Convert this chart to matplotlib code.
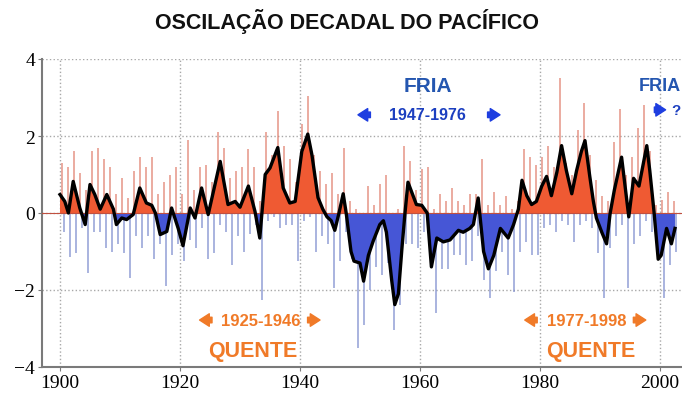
import numpy as np
import matplotlib
matplotlib.use("Agg")
import matplotlib.pyplot as plt

# annual extreme monthly values, 1900-2002
years = np.arange(1900, 2003)
spike_max = [1.3, 1.2, 1.6, 1.05, 0.6, 1.6, 1.7, 1.4, 1.2, 0.5,
             0.9, 0.4, 1.1, 1.45, 1.2, 1.45, 0.5, 0.8, 1.0, 1.2,
             0.5, 1.9, 0.6, 1.2, 1.25, 0.8, 2.1, 1.7, 0.9, 1.1,
             1.2, 1.65, 1.2, 0.3, 2.1, 1.5, 2.65, 1.75, 1.4, 0.8,
             2.3, 3.05, 1.5, 1.1, 0.75, 1.05, 0.5, 1.7, 0.3, 0.1,
             0.0, 0.7, 0.2, 0.75, 1.0, 0.0, 0.1, 1.75, 1.35, 0.6,
             1.15, 1.2, 0.1, 0.5, 0.3, 0.65, 0.3, 0.2, 0.5, 0.5,
             1.4, 0.2, 0.55, 0.2, 0.45, 0.1, 0.3, 1.65, 1.45, 1.25,
             1.45, 1.75, 1.2, 3.5, 1.3, 1.0, 2.15, 2.85, 1.5, 0.85,
             0.45, 0.3, 1.85, 2.7, 1.0, 1.45, 2.2, 2.8, 1.6, 0.2,
             0.35, 0.55, 0.3]
spike_min = [-0.5, -1.15, -1.05, -0.4, -1.55, -0.5, -0.5, -0.9, -1.0, -0.8,
             -1.05, -1.7, -0.6, -0.9, -0.6, -1.2, -0.8, -1.9, -1.1, -0.8,
             -1.25, -0.7, -0.9, -0.4, -1.2, -1.05, -0.3, -0.5, -1.35, -0.6,
             -1.0, -0.55, -0.3, -2.25, -0.2, -0.1, -0.4, -0.3, -0.3, -1.25,
             -0.2, -0.1, -1.0, -0.6, -0.8, -1.95, -1.25, -0.5, -1.2, -3.5,
             -2.9, -2.0, -1.4, -1.6, -1.3, -3.05, -2.4, -0.8, -0.8, -0.9,
             -0.5, -1.0, -2.6, -1.45, -1.45, -1.1, -1.1, -1.35, -1.25, -0.6,
             -1.75, -2.2, -1.5, -1.0, -1.6, -2.05, -1.0, -0.75, -1.1, -1.1,
             -0.4, -0.3, -0.5, -0.2, -0.3, -0.75, -0.3, -0.2, -0.4, -1.05,
             -2.2, -0.9, -0.6, -0.3, -1.95, -0.8, -0.6, -0.2, -0.5, -1.2,
             -2.2, -1.35, -1.0]

# smoothed index
smooth_years = [1900.0, 1900.8, 1901.4, 1902.2, 1903.3, 1904.2, 1905.0, 1905.8,
                1906.7, 1907.8, 1908.9, 1909.4, 1910.3, 1911.1, 1912.2, 1913.3,
                1914.4, 1915.3, 1915.9, 1916.7, 1917.8, 1918.6, 1919.7, 1920.5,
                1921.7, 1922.5, 1923.6, 1924.7, 1926.7, 1928.0, 1929.2, 1930.0,
                1931.4, 1932.5, 1933.3, 1934.2, 1935.0, 1936.3, 1937.2, 1938.3,
                1939.2, 1940.3, 1941.3, 1942.0, 1943.0, 1943.8, 1944.5, 1945.2,
                1945.8, 1946.5, 1947.2, 1947.7, 1948.5, 1949.0, 1950.0, 1950.6,
                1951.4, 1952.2, 1953.3, 1953.9, 1954.4, 1955.3, 1955.8, 1956.4,
                1957.0, 1957.5, 1958.0, 1959.4, 1960.3, 1961.2, 1961.9, 1962.8,
                1963.9, 1965.0, 1966.4, 1967.2, 1968.3, 1968.9, 1969.7, 1970.6,
                1971.4, 1972.3, 1973.4, 1974.7, 1975.6, 1976.4, 1977.0, 1977.8,
                1978.6, 1979.4, 1980.3, 1981.1, 1981.9, 1982.8, 1983.6, 1984.4,
                1985.3, 1986.1, 1986.9, 1987.5, 1988.3, 1988.9, 1989.4, 1990.3,
                1991.1, 1991.7, 1992.4, 1993.6, 1994.8, 1995.6, 1996.5, 1997.8,
                1998.3, 1999.0, 1999.7, 2000.2, 2001.1, 2001.9, 2002.5]
smooth_vals = [0.48, 0.3, 0.0, 0.82, 0.13, -0.3, 0.74, 0.48,
               0.1, 0.48, 0.1, -0.3, -0.13, -0.17, -0.04, 0.65,
               0.26, 0.2, 0.0, -0.56, -0.48, 0.13, -0.4, -0.85,
               0.13, -0.13, 0.65, -0.04, 1.34, 0.22, 0.3, 0.15,
               0.7, 0.04, -0.65, 1.0, 1.17, 1.7, 0.65, 0.26,
               0.3, 1.6, 2.05, 1.5, 0.4, 0.1, -0.1, -0.2,
               -0.45, 0.0, 0.5, 0.0, -1.0, -1.25, -1.3, -1.77,
               -1.1, -0.73, -0.3, -0.2, -0.5, -1.77, -2.38, -2.1,
               -0.9, 0.0, 0.8, 0.22, 0.2, 0.0, -1.4, -0.65,
               -0.75, -0.7, -0.45, -0.5, -0.4, -0.3, 0.39, -1.0,
               -1.45, -1.1, -0.4, -0.65, -0.3, 0.1, 0.85, 0.45,
               0.22, 0.3, 0.7, 0.95, 0.45, 1.05, 1.75, 1.1,
               0.5, 1.1, 1.6, 1.88, 0.95, 0.3, -0.13, -0.5,
               -0.8, 0.0, 0.6, 1.45, -0.1, 0.9, 0.7, 1.75,
               1.1, 0.04, -1.2, -1.1, -0.4, -0.8, -0.4]

RED = '#ef5a33'
BLUE = '#4656d6'
TXT_BLUE = '#1c3fc0'
ORANGE = '#f07a28'

fig = plt.figure(figsize=(6.82, 4.06), dpi=100)
ax = fig.add_axes([42 / 682, 38 / 406, 640 / 682, 308 / 406])
ax.set_xlim(1897, 2003.67)
ax.set_ylim(-4, 4)

# monthly-like spikes
pos = np.clip(spike_max, 0, None)
neg = np.clip(spike_min, None, 0)
ax.vlines(years + 0.3, 0, pos, color='#e07c6c', lw=1.2, alpha=0.75, zorder=2)
ax.vlines(years + 0.75, neg, 0, color='#8290d0', lw=1.2, alpha=0.8, zorder=2)

# smoothed curve with filled areas
sx = np.array(smooth_years)
sy = np.array(smooth_vals)
ax.fill_between(sx, 0, sy, where=sy >= 0, interpolate=True, color=RED, lw=0, zorder=3)
ax.fill_between(sx, 0, sy, where=sy <= 0, interpolate=True, color=BLUE, lw=0, zorder=3)
ax.axhline(0, color='#c05040', lw=0.8, zorder=3)
ax.plot(sx, sy, color='black', lw=2.4, zorder=4)

# axes styling
for s in ['top', 'right']:
    ax.spines[s].set_visible(False)
for s in ['left', 'bottom']:
    ax.spines[s].set_color('#7a7a7a')
    ax.spines[s].set_linewidth(1.5)
ax.set_xticks([1900, 1920, 1940, 1960, 1980, 2000])
ax.set_yticks([-4, -2, 0, 2, 4])
ax.grid(True, linestyle=':', color='#a8a8a8', lw=1.0, zorder=0)
ax.set_axisbelow(True)
ax.tick_params(direction='out', length=3, color='#7a7a7a', labelsize=14, pad=2)
for lab in ax.get_xticklabels() + ax.get_yticklabels():
    lab.set_family('Liberation Serif')

fig.text(0.509, 0.946, 'OSCILAÇÃO DECADAL DO PACÍFICO', ha='center', va='center',
         fontsize=15.5, fontweight='bold', family='Liberation Sans', color='#111111')

bold = dict(fontweight='bold', family='Liberation Sans', ha='center', va='center', clip_on=False)
arrow_kw = dict(arrowstyle='simple,head_length=0.7,head_width=0.9,tail_width=0.4')

# FRIA 1947-1976
ax.text(1961.3, 3.32, 'FRIA', color='#2456b0', fontsize=15, **bold)
ax.text(1961.3, 2.55, '1947-1976', color=TXT_BLUE, fontsize=11.5, **bold)
ax.annotate('', xy=(1949.2, 2.55), xytext=(1952.2, 2.55),
            arrowprops=dict(color='#1e3ee0', **arrow_kw))
ax.annotate('', xy=(1973.8, 2.55), xytext=(1970.8, 2.55),
            arrowprops=dict(color='#1e3ee0', **arrow_kw))
# FRIA after 1998, squeezed against the right edge
ax.text(2003.4, 3.32, 'FRIA', color='#2456b0', fontsize=13, **{**bold, 'ha': 'right'})
ax.annotate('', xy=(2001.4, 2.68), xytext=(1998.6, 2.68),
            arrowprops=dict(color='#1e3ee0', **arrow_kw))
ax.text(2003.4, 2.68, '?', color=TXT_BLUE, fontsize=11, **{**bold, 'ha': 'right'})

# QUENTE 1925-1946
ax.text(1933.5, -2.78, '1925-1946', color=ORANGE, fontsize=12, **bold)
ax.annotate('', xy=(1922.8, -2.78), xytext=(1925.8, -2.78),
            arrowprops=dict(color=ORANGE, **arrow_kw))
ax.annotate('', xy=(1943.8, -2.78), xytext=(1940.8, -2.78),
            arrowprops=dict(color=ORANGE, **arrow_kw))
ax.text(1932.2, -3.56, 'QUENTE', color=ORANGE, fontsize=15.5, **bold)

# QUENTE 1977-1998
ax.text(1987.8, -2.78, '1977-1998', color=ORANGE, fontsize=12, **bold)
ax.annotate('', xy=(1977.0, -2.78), xytext=(1980.0, -2.78),
            arrowprops=dict(color=ORANGE, **arrow_kw))
ax.annotate('', xy=(1998.1, -2.78), xytext=(1995.1, -2.78),
            arrowprops=dict(color=ORANGE, **arrow_kw))
ax.text(1988.5, -3.56, 'QUENTE', color=ORANGE, fontsize=15.5, **bold)

fig.savefig('out.png', dpi=100)
